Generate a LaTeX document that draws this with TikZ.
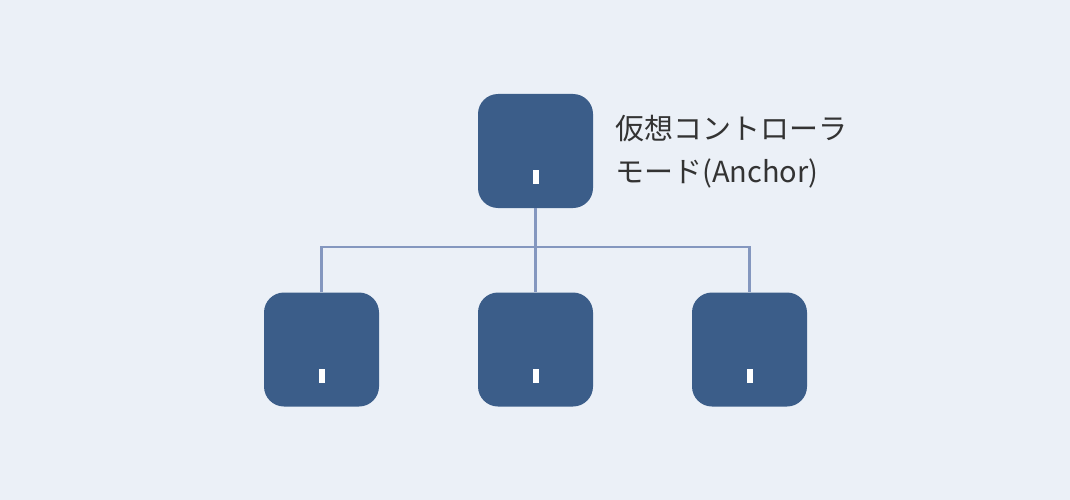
\documentclass[tikz,border=0pt]{standalone}
\usepackage{fontspec}
\newfontfamily\cjk{Noto Sans CJK JP}
\definecolor{bg}{HTML}{EBF0F7}
\definecolor{boxc}{HTML}{3B5D89}
\definecolor{linec}{HTML}{8497BF}
\definecolor{txt}{HTML}{333333}
\begin{document}
\begin{tikzpicture}[x=1pt,y=-1pt,
  unit/.style={fill=boxc, rounded corners=20pt, minimum width=115pt, minimum height=114pt, inner sep=0pt},
  conn/.style={draw=linec, line width=2.6pt}]
\fill[bg] (0,0) rectangle (1070,500);
\useasboundingbox (0,0) rectangle (1070,500);
\node[unit] (top) at (535.5,151) {};
\node[unit] (b1) at (321.5,349.5) {};
\node[unit] (b2) at (535.5,349.5) {};
\node[unit] (b3) at (749.5,349.5) {};
\foreach \n in {top,b1,b2,b3}{
  \fill[white] ([xshift=-3pt,yshift=24pt]\n.south) rectangle ([xshift=3pt,yshift=38pt]\n.south);
}
\coordinate (j) at (535.5,247);
\draw[conn] (top.south) -- (j);
\draw[conn] (b1.north) |- (j) -| (b3.north);
\draw[conn] (j) -- (b2.north);
\node[anchor=west, align=left, text=txt, font=\cjk\fontsize{29}{43}\selectfont, inner sep=0pt] (lbl) at (615,152) {仮想コントローラ\\モード(Anchor)};
\end{tikzpicture}
\end{document}
